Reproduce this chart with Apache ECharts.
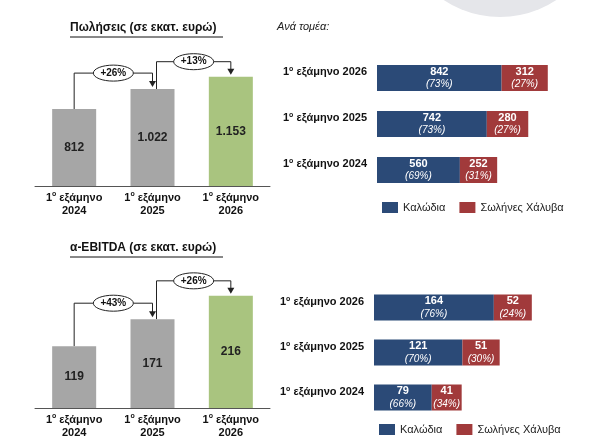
<!DOCTYPE html>
<html><head><meta charset="utf-8">
<script src="https://cdn.jsdelivr.net/npm/echarts@6/dist/echarts.min.js"></script>
<style>html,body{margin:0;padding:0;background:#fff}#c{width:591px;height:444px}</style>
</head><body><div id="c"></div>
<script>
var periods = ['2024', '2025', '2026'];
var sales = [812, 1022, 1153];
var salesLabels = ['812', '1.022', '1.153'];
var salesGrowth = ['+26%', '+13%'];
var ebitda = [119, 171, 216];
var ebitdaGrowth = ['+43%', '+26%'];
var salesCables = [560, 742, 842];
var salesCablesPct = ['69%', '73%', '73%'];
var salesPipes = [252, 280, 312];
var salesPipesPct = ['31%', '27%', '27%'];
var ebitdaCables = [79, 121, 164];
var ebitdaCablesPct = ['66%', '70%', '76%'];
var ebitdaPipes = [41, 51, 52];
var ebitdaPipesPct = ['34%', '30%', '24%'];
var segNames = ['Καλώδια', 'Σωλήνες Χάλυβα'];

var GRAY = '#a6a6a6', GREEN = '#a9c47f', BLUE = '#2b4a77', RED = '#a13a3b';
var FONT = 'Arial, Liberation Sans, sans-serif';
var chart = echarts.init(document.getElementById('c'));

var supRich = {n: {fontSize: 11, fontWeight: 'bold', color: '#111', fontFamily: FONT},
  s: {fontSize: 7, fontWeight: 'bold', color: '#111', verticalAlign: 'top', padding: [0, 0, 5, 0], fontFamily: FONT}};
function leftCat(v) { return '{n|1}{s|ο}{n| εξάμηνο\n' + v + '}'; }
function rightCat(v) { return '{n|1}{s|ο}{n| εξάμηνο ' + v + '}'; }

function segLabel(pcts) {
  return {show: true, position: 'inside', lineHeight: 13,
    formatter: function (p) { return '{v|' + p.value + '}\n{p|(' + pcts[p.dataIndex] + ')}'; },
    rich: {v: {color: '#fff', fontWeight: 'bold', fontSize: 11, fontFamily: FONT, align: 'center'},
      p: {color: '#fff', fontStyle: 'italic', fontSize: 10, fontFamily: FONT, align: 'center'}}};
}

var grids = [
  {left: 35, right: 321, top: 40, height: 146},
  {left: 35, right: 321, top: 260, height: 148},
  {left: 377, right: 0, top: 55, height: 138},
  {left: 374, right: 0, top: 285, height: 135}
];

var option = {
  animation: false,
  textStyle: {fontFamily: FONT},
  grid: grids,
  xAxis: [
    {gridIndex: 0, type: 'category', data: periods, axisTick: {show: false}, axisLine: {lineStyle: {color: '#555'}},
      axisLabel: {interval: 0, formatter: leftCat, rich: supRich, lineHeight: 13, margin: 5}},
    {gridIndex: 1, type: 'category', data: periods, axisTick: {show: false}, axisLine: {lineStyle: {color: '#555'}},
      axisLabel: {interval: 0, formatter: leftCat, rich: supRich, lineHeight: 13, margin: 5}},
    {gridIndex: 2, type: 'value', min: 0, max: 1446, show: false},
    {gridIndex: 3, type: 'value', min: 0, max: 297, show: false}
  ],
  yAxis: [
    {gridIndex: 0, type: 'value', min: 0, max: 1540, show: false},
    {gridIndex: 1, type: 'value', min: 0, max: 285, show: false},
    {gridIndex: 2, type: 'category', data: periods, axisLine: {show: false}, axisTick: {show: false},
      axisLabel: {interval: 0, formatter: rightCat, rich: supRich, margin: 10, verticalAlign: 'bottom'}},
    {gridIndex: 3, type: 'category', data: periods, axisLine: {show: false}, axisTick: {show: false},
      axisLabel: {interval: 0, formatter: rightCat, rich: supRich, margin: 10, verticalAlign: 'bottom'}}
  ],
  legend: [
    {data: segNames, left: 377, top: 197, itemWidth: 16, itemHeight: 11, itemGap: 14, icon: 'rect',
      textStyle: {fontSize: 11, color: '#222'}},
    {data: segNames, left: 374, top: 419, itemWidth: 16, itemHeight: 11, itemGap: 14, icon: 'rect',
      textStyle: {fontSize: 11, color: '#222'}}
  ],
  series: [
    {type: 'bar', xAxisIndex: 0, yAxisIndex: 0, barWidth: 44,
      data: sales.map(function (v, i) { return {value: v, itemStyle: {color: i === 2 ? GREEN : GRAY}}; }),
      label: {show: true, position: 'inside', fontWeight: 'bold', fontSize: 12, color: '#222',
        formatter: function (p) { return salesLabels[p.dataIndex]; }}},
    {type: 'bar', xAxisIndex: 1, yAxisIndex: 1, barWidth: 44,
      data: ebitda.map(function (v, i) { return {value: v, itemStyle: {color: i === 2 ? GREEN : GRAY}}; }),
      label: {show: true, position: 'inside', fontWeight: 'bold', fontSize: 12, color: '#222'}},
    {name: segNames[0], type: 'bar', xAxisIndex: 2, yAxisIndex: 2, stack: 's', barWidth: 26, data: salesCables,
      itemStyle: {color: BLUE}, label: segLabel(salesCablesPct)},
    {name: segNames[1], type: 'bar', xAxisIndex: 2, yAxisIndex: 2, stack: 's', barWidth: 26, data: salesPipes,
      itemStyle: {color: RED}, label: segLabel(salesPipesPct)},
    {name: segNames[0], type: 'bar', xAxisIndex: 3, yAxisIndex: 3, stack: 'e', barWidth: 26, data: ebitdaCables,
      itemStyle: {color: BLUE}, label: segLabel(ebitdaCablesPct)},
    {name: segNames[1], type: 'bar', xAxisIndex: 3, yAxisIndex: 3, stack: 'e', barWidth: 26, data: ebitdaPipes,
      itemStyle: {color: RED}, label: segLabel(ebitdaPipesPct)}
  ]
};
chart.setOption(option);

var g = [
  {type: 'circle', shape: {cx: 500, cy: -85, r: 102}, style: {fill: '#e5e6ea'}, z: -10},
  {type: 'text', left: 70, top: 22, style: {text: 'Πωλήσεις (σε εκατ. ευρώ)', font: 'bold 12px ' + FONT, fill: '#111'}},
  {type: 'line', shape: {x1: 70, y1: 37, x2: 223, y2: 37}, style: {stroke: '#111', lineWidth: 1}},
  {type: 'text', left: 70, top: 242, style: {text: 'α-EBITDA (σε εκατ. ευρώ)', font: 'bold 12px ' + FONT, fill: '#111'}},
  {type: 'line', shape: {x1: 70, y1: 257, x2: 223, y2: 257}, style: {stroke: '#111', lineWidth: 1}},
  {type: 'text', left: 277, top: 21, style: {text: 'Ανά τομέα:', font: 'italic 11px ' + FONT, fill: '#222'}}
];

function arrows(xi, yi, vals, labels, rises) {
  for (var i = 0; i < 2; i++) {
    var a = chart.convertToPixel({xAxisIndex: xi, yAxisIndex: yi}, [i, vals[i]]);
    var b = chart.convertToPixel({xAxisIndex: xi, yAxisIndex: yi}, [i + 1, vals[i + 1]]);
    var sx = i === 0 ? a[0] : a[0] + 4;
    var ty = Math.min(a[1], b[1]) - rises[i];
    var ex = b[0];
    g.push({type: 'polyline', shape: {points: [[sx, a[1]], [sx, ty], [ex, ty], [ex, b[1] - 4]]},
      style: {stroke: '#222', lineWidth: 1, fill: null}});
    g.push({type: 'polygon', shape: {points: [[ex - 3.5, b[1] - 8], [ex + 3.5, b[1] - 8], [ex, b[1] - 2]]},
      style: {fill: '#222'}});
    var mx = (sx + ex) / 2;
    g.push({type: 'ellipse', shape: {cx: mx, cy: ty, rx: 20, ry: 8}, style: {fill: '#fff', stroke: '#222', lineWidth: 1}});
    g.push({type: 'text', x: mx, y: ty, style: {text: labels[i], font: 'bold 10px ' + FONT, fill: '#111', align: 'center', verticalAlign: 'middle'}});
  }
}
arrows(0, 0, sales, salesGrowth, [16, 15]);
arrows(1, 1, ebitda, ebitdaGrowth, [16, 15]);
chart.setOption({graphic: g});
</script></body></html>
